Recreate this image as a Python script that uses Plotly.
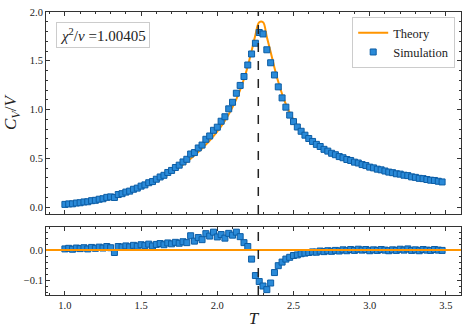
import plotly.graph_objects as go
from plotly.subplots import make_subplots
import numpy as np

# temperature grid of the simulation
T = [1.000, 1.025, 1.050, 1.075, 1.100, 1.125, 1.150, 1.175, 1.200, 1.225,
     1.250, 1.275, 1.300, 1.325, 1.350, 1.375, 1.400, 1.425, 1.450, 1.475,
     1.500, 1.525, 1.550, 1.575, 1.600, 1.625, 1.650, 1.675, 1.700, 1.725,
     1.750, 1.775, 1.800, 1.825, 1.850, 1.875, 1.900, 1.925, 1.950, 1.975,
     2.000, 2.025, 2.050, 2.075, 2.100, 2.125, 2.150, 2.175, 2.200, 2.225,
     2.250, 2.275, 2.300, 2.325, 2.350, 2.375, 2.400, 2.425, 2.450, 2.475,
     2.500, 2.525, 2.550, 2.575, 2.600, 2.625, 2.650, 2.675, 2.700, 2.725,
     2.750, 2.775, 2.800, 2.825, 2.850, 2.875, 2.900, 2.925, 2.950, 2.975,
     3.000, 3.025, 3.050, 3.075, 3.100, 3.125, 3.150, 3.175, 3.200, 3.225,
     3.250, 3.275, 3.300, 3.325, 3.350, 3.375, 3.400, 3.425, 3.450, 3.475]

# exact (theory) specific heat per site
cv_theory = [0.025, 0.028, 0.032, 0.036, 0.041, 0.046, 0.052, 0.058, 0.065, 0.072,
             0.080, 0.089, 0.098, 0.108, 0.118, 0.129, 0.141, 0.154, 0.168, 0.183,
             0.198, 0.214, 0.231, 0.249, 0.268, 0.288, 0.309, 0.332, 0.356, 0.381,
             0.408, 0.436, 0.466, 0.497, 0.530, 0.565, 0.602, 0.641, 0.683, 0.728,
             0.776, 0.829, 0.887, 0.952, 1.025, 1.108, 1.203, 1.314, 1.445, 1.600,
             1.765, 1.895, 1.895, 1.745, 1.590, 1.430, 1.285, 1.160, 1.055, 0.968,
             0.895, 0.838, 0.790, 0.748, 0.712, 0.680, 0.651, 0.625, 0.598, 0.577,
             0.557, 0.539, 0.522, 0.506, 0.491, 0.477, 0.463, 0.450, 0.437, 0.425,
             0.413, 0.402, 0.391, 0.381, 0.371, 0.362, 0.353, 0.344, 0.336, 0.328,
             0.320, 0.312, 0.305, 0.298, 0.291, 0.284, 0.278, 0.272, 0.266, 0.260]

# simulation minus theory
residual = [0.004, 0.006, 0.003, 0.007, 0.005, 0.008, 0.004, 0.009, 0.006, 0.010,
            0.007, 0.012, 0.008, -0.008, 0.012, 0.010, 0.014, 0.011, 0.016, 0.013,
            0.018, 0.015, 0.020, 0.014, 0.019, 0.022, 0.018, 0.024, 0.021, 0.026,
            0.023, 0.028, 0.025, 0.048, 0.030, 0.042, 0.035, 0.055, 0.047, 0.060,
            0.044, 0.052, 0.040, 0.056, 0.050, 0.060, 0.045, 0.025, 0.012, -0.030,
            -0.085, -0.105, -0.120, -0.132, -0.110, -0.075, -0.052, -0.040, -0.030, -0.024,
            -0.018, -0.016, -0.012, -0.010, -0.008, -0.006, -0.007, -0.003, -0.005, -0.002,
            -0.004, -0.001, -0.003, 0.001, -0.002, 0.002, -0.001, 0.003, 0.000, 0.002,
            -0.002, 0.001, -0.001, 0.002, 0.000, -0.002, 0.001, -0.001, 0.003, 0.000,
            0.004, -0.001, 0.001, -0.002, 0.002, 0.000, -0.001, 0.002, 0.000, -0.001]

Tc = 2.269
chi2_nu = "1.00405"

cv_sim = np.array(cv_theory) + np.array(residual)

BLUE = "#2a8ad8"
BLUE_EDGE = "#0C5DA5"
ORANGE = "#FF9500"
FONT = "Liberation Serif, DejaVu Serif, serif"

fig = make_subplots(rows=2, cols=1, shared_xaxes=True)

mk = dict(symbol="square", size=6, color=BLUE, line=dict(color=BLUE_EDGE, width=1))

fig.add_trace(go.Scatter(x=T, y=cv_theory, mode="lines", name="Theory",
                         line=dict(color=ORANGE, width=2, shape="spline")), row=1, col=1)
fig.add_trace(go.Scatter(x=T, y=cv_sim, mode="markers", name="Simulation", marker=mk), row=1, col=1)
fig.add_trace(go.Scatter(x=T, y=residual, mode="markers", showlegend=False, marker=mk), row=2, col=1)

fig.add_hline(y=0, line=dict(color=ORANGE, width=2), row=2, col=1)
fig.add_vline(x=Tc, line=dict(color="#222222", width=1.5, dash="dash"), row="all", col=1)

ax = dict(showline=True, linecolor="#333333", linewidth=1, mirror="allticks",
          ticks="inside", ticklen=4, tickcolor="#333333", showgrid=False, zeroline=False,
          automargin=False, tickfont=dict(size=10.5, color="#222222", family=FONT))

fig.update_xaxes(range=[0.876, 3.599], dtick=0.5, tickformat=".1f",
                 minor=dict(ticks="inside", ticklen=2, dtick=0.1, tickcolor="#333333"), **ax)
fig.update_xaxes(showticklabels=False, row=1, col=1)
fig.update_xaxes(title=dict(text="<i>T</i>", font=dict(size=17, family=FONT), standoff=2), row=2, col=1)

fig.update_yaxes(range=[-0.07, 2.0], dtick=0.5, tickformat=".1f", domain=[0.286, 1.0],
                 minor=dict(ticks="inside", ticklen=2, dtick=0.1, tickcolor="#333333"),
                 title=dict(text="<i>C</i><sub><i>V</i></sub>/<i>V</i>", font=dict(size=17, family=FONT), standoff=8),
                 row=1, col=1, **ax)
fig.update_yaxes(range=[-0.15, 0.077], dtick=0.1, tickformat=".1f", domain=[0.0, 0.240],
                 minor=dict(ticks="inside", ticklen=2, dtick=0.02, tickcolor="#333333"),
                 row=2, col=1, **ax)

fig.add_annotation(xref="paper", yref="paper", x=0.024, y=0.965, xanchor="left", yanchor="top",
                   text="<i>χ</i><sup>2</sup>/<i>ν</i> =" + chi2_nu, showarrow=False,
                   font=dict(size=15, color="#222222", family=FONT), bordercolor="#cccccc", borderwidth=1,
                   borderpad=3, bgcolor="white")

fig.update_layout(width=469, height=335, margin=dict(l=46, r=8, t=12, b=40),
                  plot_bgcolor="white", paper_bgcolor="white",
                  font=dict(family=FONT, color="#222222"),
                  legend=dict(x=0.986, y=0.982, xanchor="right", yanchor="top",
                              bordercolor="#cccccc", borderwidth=1, bgcolor="white",
                              font=dict(size=12.5, family=FONT), tracegroupgap=0))

# page body has a default 8px margin, drop it so the figure sits at the window corner
fig.write_html("out.html", config={"displayModeBar": False},
               post_script="document.body.style.margin='0';")
